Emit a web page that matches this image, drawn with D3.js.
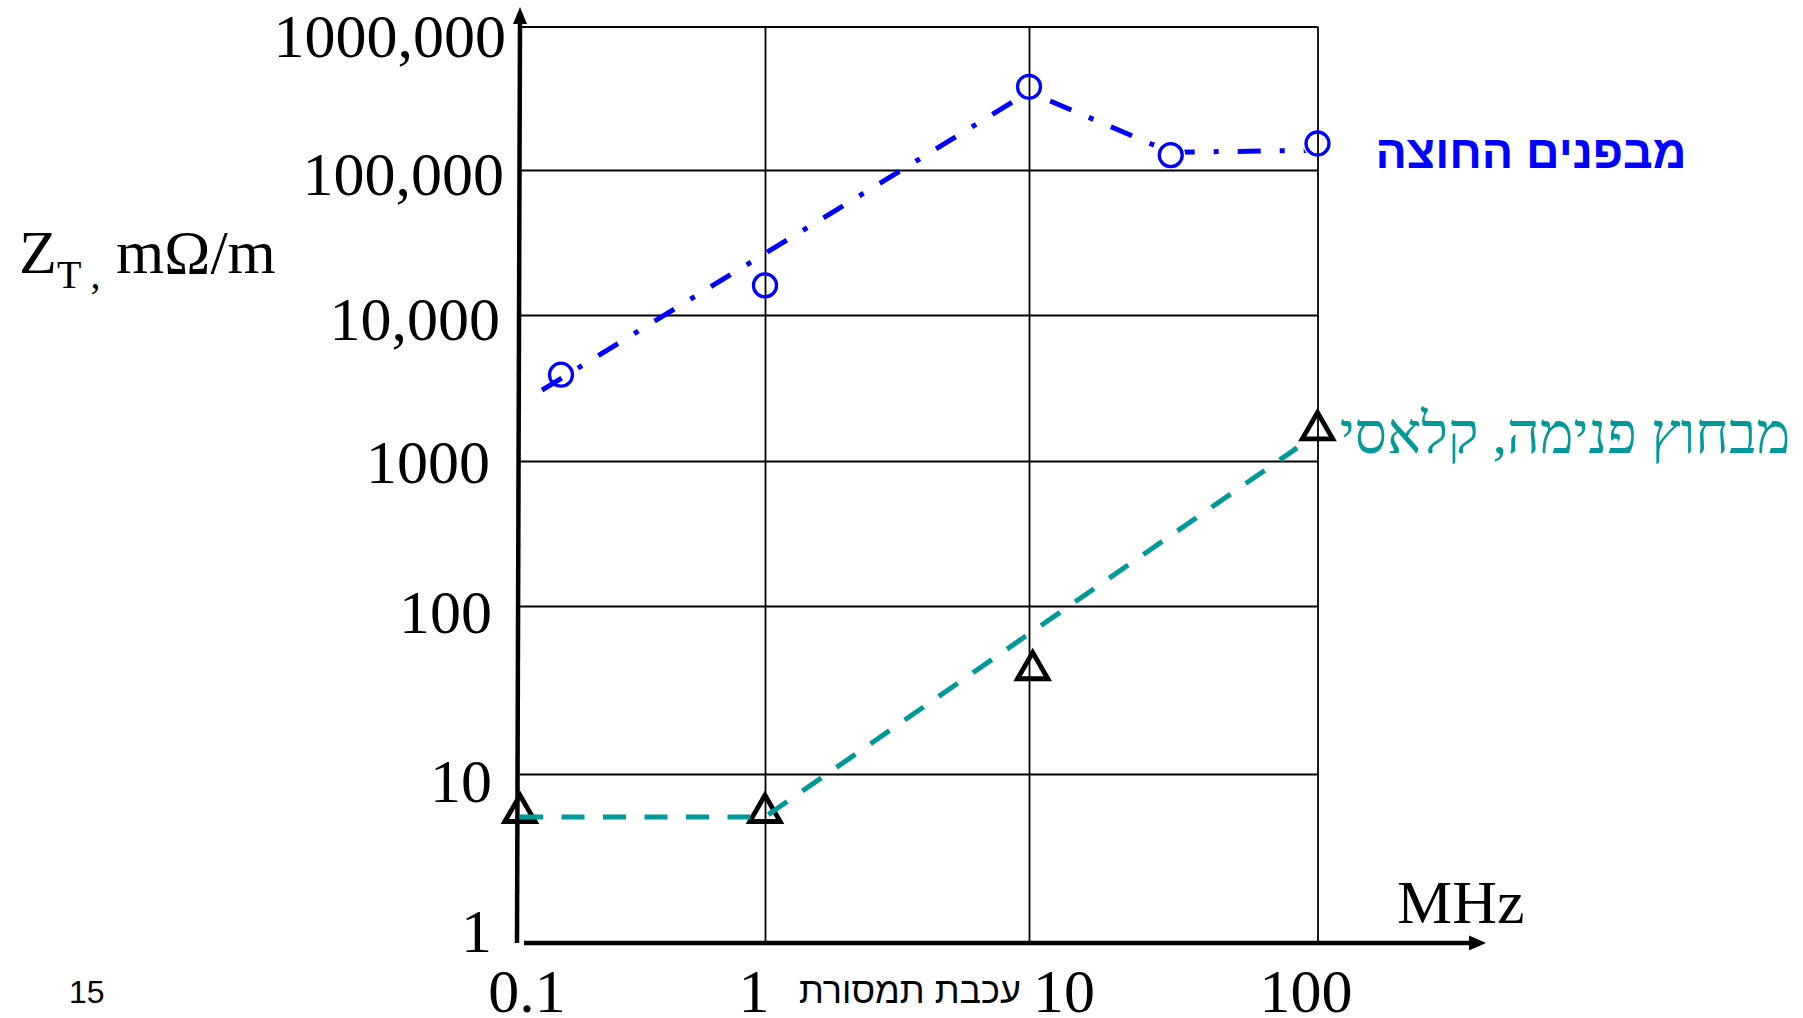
<!DOCTYPE html>
<html>
<head>
<meta charset="utf-8">
<script src="https://cdn.jsdelivr.net/npm/d3@7"></script>
<style>
  body { margin: 0; background: #fff; }
  svg { display: block; }
</style>
</head>
<body>
<div id="chart"></div>
<script>
// ---- data ----
const frequencyTicks = [0.1, 1, 10, 100];
const frequencyTickLabels = ["0.1", "1", "10", "100"];
const impedanceTicks = [1, 10, 100, 1000, 10000, 100000, 1000000];
const impedanceTickLabels = ["1", "10", "100", "1000", "10,000", "100,000", "1000,000"];

// inside -> out (blue circles, dash-dot line)
const insideOutFreq = [0.147, 1, 10, 31, 100];
const insideOutZt = [3900, 16000, 380000, 127000, 153000];
const insideOutLineFreq = [0.123, 10, 31, 100];
const insideOutLineZt = [3060, 350000, 133000, 137000];

// outside -> in, classic (black triangles, teal dashed line)
const outsideInFreq = [0.1, 1, 10.3, 100];
const outsideInZt = [5.9, 5.9, 41.6, 1630];
const outsideInLineFreq = [0.1, 1, 85];
const outsideInLineZt = [5.57, 5.57, 1230];

const insideOutLabel = "מבפנים החוצה";
const outsideInLabel = "מבחוץ פנימה, קלאסי";
const xAxisNote = "עכבת תמסורת";
const slideNumber = "15";

// ---- layout ----
const WIDTH = 1803, HEIGHT = 1018;
// the decades were drawn by hand, so they are not evenly spaced
const X_DECADE_PX = [520, 765, 1029, 1317.5];
const Y_DECADE_PX = [943, 774, 606, 461, 315, 170, 26.5];
const Y_LABEL_DX = [-28, -28, -28, -30, -20, -16, -14];
const Y_LABEL_DY = [9, 28, 27, 22, 25, 25, 30.5];
const X_LABEL_DX = [7, -11, 35, -11.5];

const BLUE = "#0000ff";
const TEAL = "#009999";
const SERIF = "'Liberation Serif', 'Times New Roman', serif";
const SANS = "'Liberation Sans', Arial, sans-serif";
const CIRCLE_R = 11.5;

let svg = null, x = null, y = null;

renderChart();

function renderChart() {
  appendSvg("#chart");
  setupScales();
  appendGrid();
  appendAxes();
  appendTickLabels();
  appendTitles();
  appendOutsideIn();
  appendInsideOut();
  appendLegendText();
}

/**
 * @method appendSvg
 * @description Adds the svg canvas
 */
function appendSvg(domElement) {
  svg = d3.select(domElement)
    .append("svg")
    .attr("width", WIDTH)
    .attr("height", HEIGHT)
    .attr("viewBox", `0 0 ${WIDTH} ${HEIGHT}`);
  svg.append("rect").attr("width", WIDTH).attr("height", HEIGHT).attr("fill", "#fff");
}

/**
 * @method setupScales
 * @description Log scales, piecewise per decade
 */
function setupScales() {
  x = d3.scaleLog().domain(frequencyTicks).range(X_DECADE_PX);
  y = d3.scaleLog().domain(impedanceTicks).range(Y_DECADE_PX);
}

/**
 * @method appendGrid
 * @description Thin black grid, one line per decade
 */
function appendGrid() {
  svg.append("g")
    .attr("class", "grid y")
    .attr("transform", `translate(${x(0.1)},0)`)
    .call(d3.axisRight(y)
      .tickValues(impedanceTicks.slice(1))
      .tickSize(x(100) - x(0.1))
      .tickFormat(""))
    .call(g => g.select(".domain").remove())
    .call(g => g.selectAll("line").attr("stroke", "#000").attr("stroke-width", 1.8));

  svg.append("g")
    .attr("class", "grid x")
    .attr("transform", `translate(0,${y(1)})`)
    .call(d3.axisTop(x)
      .tickValues(frequencyTicks.slice(1))
      .tickSize(y(1) - y(1000000))
      .tickFormat(""))
    .call(g => g.select(".domain").remove())
    .call(g => g.selectAll("line").attr("stroke", "#000").attr("stroke-width", 1.8));
}

/**
 * @method appendAxes
 * @description Heavy axes with arrow heads
 */
function appendAxes() {
  let x0 = x(0.1), y0 = y(1);

  svg.append("line")
    .attr("x1", x0 - 3).attr("y1", y0)
    .attr("x2", x0).attr("y2", 20)
    .attr("stroke", "#000").attr("stroke-width", 4.5);
  svg.append("path")
    .attr("d", `M${x0},7 L${x0 - 7},24 L${x0 + 7},24 Z`)
    .attr("fill", "#000");

  svg.append("line")
    .attr("x1", x0 + 4).attr("y1", y0)
    .attr("x2", 1472).attr("y2", y0)
    .attr("stroke", "#000").attr("stroke-width", 4.5);
  svg.append("path")
    .attr("d", `M1486,${y0} L1469,${y0 - 7.5} L1469,${y0 + 7.5} Z`)
    .attr("fill", "#000");
}

/**
 * @method appendTickLabels
 * @description Decade labels on both axes
 */
function appendTickLabels() {
  svg.append("g")
    .selectAll("text")
    .data(impedanceTicks)
    .enter().append("text")
    .attr("x", (d, i) => x(0.1) + Y_LABEL_DX[i])
    .attr("y", (d, i) => y(d) + Y_LABEL_DY[i])
    .attr("text-anchor", "end")
    .style("font-family", SERIF)
    .style("font-size", "62px")
    .text((d, i) => impedanceTickLabels[i]);

  svg.append("g")
    .selectAll("text")
    .data(frequencyTicks)
    .enter().append("text")
    .attr("x", (d, i) => x(d) + X_LABEL_DX[i])
    .attr("y", 1012)
    .attr("text-anchor", "middle")
    .style("font-family", SERIF)
    .style("font-size", "62px")
    .text((d, i) => frequencyTickLabels[i]);
}

/**
 * @method appendTitles
 * @description Axis titles, note under the x axis and slide number
 */
function appendTitles() {
  let zt = svg.append("text")
    .attr("x", 19)
    .attr("y", 273)
    .style("font-family", SERIF)
    .style("font-size", "62px");
  zt.append("tspan").text("Z");
  zt.append("tspan").attr("dy", 15).style("font-size", "40px").text("T ,");
  zt.append("tspan").attr("dy", -15).text(" mΩ/m");

  svg.append("text")
    .attr("x", 1397)
    .attr("y", 923)
    .style("font-family", SERIF)
    .style("font-size", "62px")
    .text("MHz");

  svg.append("text")
    .attr("x", 910)
    .attr("y", 1003)
    .attr("text-anchor", "middle")
    .attr("direction", "rtl")
    .style("font-family", SANS)
    .style("font-size", "36px")
    .text(xAxisNote);

  svg.append("text")
    .attr("x", 69)
    .attr("y", 1003)
    .style("font-family", SANS)
    .style("font-size", "32px")
    .text(slideNumber);
}

/**
 * @method appendOutsideIn
 * @description Teal dashed line over hollow black triangles
 */
function appendOutsideIn() {
  let points = outsideInFreq.map((f, i) => ({f: f, z: outsideInZt[i]}));
  let linePoints = outsideInLineFreq.map((f, i) => ({f: f, z: outsideInLineZt[i]}));

  svg.append("g")
    .selectAll("path")
    .data(points)
    .enter().append("path")
    .attr("d", d3.symbol(d3.symbolTriangle, 400))
    .attr("transform", d => `translate(${x(d.f)},${y(d.z)})`)
    .attr("fill", "none")
    .attr("stroke", "#000")
    .attr("stroke-width", 4.8);

  let line = d3.line()
    .x(d => x(d.f))
    .y(d => y(d.z));

  svg.append("path")
    .datum(linePoints)
    .attr("fill", "none")
    .attr("stroke", TEAL)
    .attr("stroke-width", 5)
    .attr("stroke-dasharray", "23,18.5")
    .attr("d", line);
}

/**
 * @method appendInsideOut
 * @description Blue dash-dot line, broken at the hollow circles
 */
function appendInsideOut() {
  let points = insideOutFreq.map((f, i) => ({f: f, z: insideOutZt[i]}));
  let linePoints = insideOutLineFreq.map((f, i) => ({f: f, z: insideOutLineZt[i]}));

  let mask = svg.append("defs").append("mask")
    .attr("id", "insideOutMask")
    .attr("maskUnits", "userSpaceOnUse")
    .attr("x", 0).attr("y", 0)
    .attr("width", WIDTH).attr("height", HEIGHT);
  mask.append("rect").attr("width", WIDTH).attr("height", HEIGHT).attr("fill", "#fff");
  mask.selectAll("circle")
    .data(points.slice(1))
    .enter().append("circle")
    .attr("cx", d => x(d.f))
    .attr("cy", d => y(d.z))
    .attr("r", CIRCLE_R + 3)
    .attr("fill", "#000");

  let line = d3.line()
    .x(d => x(d.f))
    .y(d => y(d.z));

  svg.append("path")
    .datum(linePoints)
    .attr("fill", "none")
    .attr("stroke", BLUE)
    .attr("stroke-width", 5)
    .attr("stroke-dasharray", "23,19,5,19")
    .attr("mask", "url(#insideOutMask)")
    .attr("d", line);

  svg.append("g")
    .selectAll("circle")
    .data(points)
    .enter().append("circle")
    .attr("cx", d => x(d.f))
    .attr("cy", d => y(d.z))
    .attr("r", CIRCLE_R)
    .attr("fill", "none")
    .attr("stroke", BLUE)
    .attr("stroke-width", 3.3);
}

/**
 * @method appendLegendText
 * @description Hebrew series names written next to the last points
 */
function appendLegendText() {
  svg.append("text")
    .attr("x", 1531)
    .attr("y", 168)
    .attr("text-anchor", "middle")
    .attr("direction", "rtl")
    .attr("fill", BLUE)
    .style("font-family", SANS)
    .style("font-weight", "bold")
    .style("font-size", "46.5px")
    .text(insideOutLabel);

  svg.append("text")
    .attr("x", 1565)
    .attr("y", 453)
    .attr("text-anchor", "middle")
    .attr("direction", "rtl")
    .attr("fill", TEAL)
    .style("font-family", SERIF)
    .style("font-size", "57px")
    .text(outsideInLabel);
}
</script>
</body>
</html>
